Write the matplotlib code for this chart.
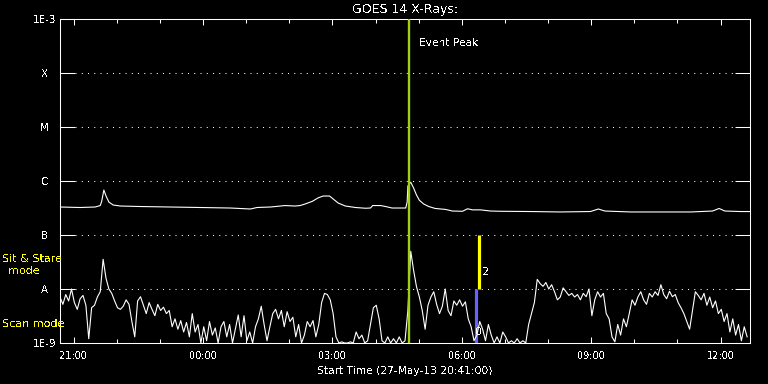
import matplotlib
matplotlib.use('Agg')
import matplotlib.pyplot as plt
import numpy as np
from matplotlib.ticker import FixedLocator, NullLocator

plt.rcParams['text.antialiased'] = False

# start of the plot: 27-May-13 20:41:00, times below are minutes after that
start_hr = 20 + 41 / 60.0

# GOES 14 long channel (1-8 A), units of 1e-7 W/m^2
long_min = [0, 28, 49, 56, 58, 61, 64, 68, 74, 84, 111, 153, 195, 237, 265,
            274, 293, 313, 327, 334, 341, 351, 359, 366, 375, 380, 387, 397,
            411, 425, 432, 435, 446, 453, 462, 481, 483, 484, 488, 492, 496,
            500, 506, 513, 522, 536, 546, 560, 567, 574, 585, 599, 613, 655,
            696, 738, 749, 758, 794, 836, 878, 908, 917, 925, 947, 961]
long_flux = [3.30, 3.23, 3.30, 3.51, 4.2, 6.8, 5.3, 4.07, 3.59, 3.44, 3.37,
             3.30, 3.23, 3.16, 3.03, 3.23, 3.30, 3.51, 3.44, 3.51, 3.75, 4.2,
             4.86, 5.27, 5.27, 4.65, 3.91, 3.44, 3.23, 3.13, 3.16, 3.51, 3.51,
             3.37, 3.16, 3.16, 4.07, 8.08, 9.5, 7.4, 5.5, 4.4, 3.75, 3.37,
             3.10, 2.98, 2.78, 2.75, 3.06, 2.92, 2.92, 2.78, 2.75, 2.72, 2.67,
             2.72, 3.03, 2.78, 2.67, 2.67, 2.67, 2.78, 3.10, 2.78, 2.72, 2.72]

# short channel (0.5-4 A), one reading every 4 minutes, units of 1e-9 W/m^2
short_step = 4
short_flux = [
    7.1, 5.2, 7.9, 6.0, 10.0, 5.6, 4.2, 6.6, 7.6, 5.0,
    1.2, 4.5, 5.0, 7.1, 8.9, 35.5, 15.8, 10.0, 8.3, 6.0,
    4.5, 4.2, 4.8, 6.3, 5.2, 2.5, 1.3, 6.0, 7.2, 5.0,
    3.5, 5.6, 4.2, 3.2, 5.2, 4.0, 4.6, 3.5, 4.0, 2.0,
    2.8, 1.8, 2.6, 1.6, 2.4, 1.3, 3.5, 1.6, 2.2, 1.0,
    2.0, 1.1, 2.5, 1.4, 1.9, 1.0, 2.0, 2.5, 1.3, 2.2,
    1.0, 1.8, 3.3, 1.3, 3.2, 1.1, 1.6, 1.0, 2.0, 2.8,
    4.8, 2.2, 1.1, 2.0, 3.5, 4.2, 2.8, 4.0, 2.0, 3.8,
    2.5, 3.0, 1.3, 2.2, 1.0, 1.4, 2.5, 2.0, 2.6, 1.3,
    2.2, 5.6, 8.3, 7.9, 6.3, 3.5, 1.3, 1.0, 1.05, 1.0,
    1.0, 1.05, 1.0, 1.6, 1.2, 1.4, 1.0, 1.1, 2.2, 4.5,
    5.0, 2.8, 1.1, 1.0, 1.3, 1.0, 1.2, 1.0, 1.3, 1.0,
    1.1, 4.0, 50.0, 22.0, 11.0, 7.1, 4.0, 1.8, 5.0, 7.1,
    8.9, 5.2, 3.5, 4.8, 10.0, 4.0, 3.2, 6.0, 5.0, 6.3,
    4.8, 5.8, 2.8, 2.0, 1.1, 1.4, 2.5, 1.8, 1.1, 2.2,
    1.4, 1.0, 1.3, 1.0, 1.6, 1.3, 1.0, 1.1, 1.0, 1.2,
    1.0, 1.1, 1.0, 2.2, 3.5, 5.6, 15.1, 12.6, 11.2, 13.2,
    10.0, 12.0, 8.9, 6.3, 7.1, 10.5, 8.9, 7.6, 8.3, 7.1,
    7.9, 6.3, 8.3, 7.2, 10.0, 3.2, 6.3, 8.9, 7.1, 8.3,
    3.5, 2.8, 1.3, 1.05, 2.2, 1.4, 2.8, 2.0, 3.5, 6.3,
    5.0, 7.1, 8.9, 6.3, 5.2, 8.3, 7.1, 8.9, 7.6, 12.0,
    7.9, 6.6, 9.1, 7.2, 7.9, 5.6, 4.5, 3.5, 2.5, 1.8,
    4.0, 8.9, 7.6, 6.3, 8.3, 5.0, 7.1, 4.5, 6.0, 3.5,
    4.2, 2.5, 3.5, 1.6, 2.8, 1.4, 2.2, 1.1, 2.0, 1.3,
]

event_min = 486   # event peak
scan_min = 579    # scan mode bar
sit_min = 583     # sit & stare bar

level_vals = [1e-9, 1e-8, 1e-7, 1e-6, 1e-5, 1e-4, 1e-3]
level_labels = ['1E-9', 'A', 'B', 'C', 'M', 'X', '1E-3']
hour_ticks = [21, 24, 27, 30, 33, 36]
hour_labels = ['21:00', '00:00', '03:00', '06:00', '09:00', '12:00']

fig = plt.figure(figsize=(7.68, 3.84), dpi=100, facecolor='black')
ax = fig.add_axes([60 / 768, 41 / 384, 690 / 768, 324 / 384], facecolor='black')
ax.set_yscale('log')

t_long = start_hr + np.array(long_min) / 60.0
t_short = start_hr + np.arange(len(short_flux)) * short_step / 60.0
t_event = start_hr + event_min / 60.0
t_scan = start_hr + scan_min / 60.0
t_sit = start_hr + sit_min / 60.0

# dotted class levels
for v in level_vals[1:-1]:
    ax.axhline(v, xmin=15 / 690, xmax=675 / 690, color='white', lw=0.75,
               ls=(0, (1, 5)), zorder=1)

# observing mode bars
ax.plot([t_scan, t_scan], [1e-9, 1e-8], color='#6464ff', lw=2.3,
        solid_capstyle='butt', zorder=2)
ax.plot([t_sit, t_sit], [1e-8, 1e-7], color='#ffff00', lw=2.3,
        solid_capstyle='butt', zorder=2)

ax.plot(t_long, np.array(long_flux) * 1e-7, color='white', lw=0.8, zorder=3)
ax.plot(t_short, np.array(short_flux) * 1e-9, color='white', lw=0.8, zorder=3)

ax.axvline(t_event, color='#a0d010', lw=1.7, zorder=4)
ax.annotate('Event Peak', xy=(t_event, 3.6e-4), xytext=(7, 0),
            textcoords='offset points', color='white', fontsize=7.7,
            va='center', ha='left')
ax.annotate('2', xy=(t_sit, 2.07e-8), xytext=(2, 0), textcoords='offset points',
            color='white', fontsize=8, va='center', ha='left', zorder=5)
ax.annotate('0', xy=(t_scan, 1.6e-9), xytext=(-1, 0), textcoords='offset points',
            color='white', fontsize=8, va='center', ha='left', zorder=5)

ax.set_xlim(start_hr, start_hr + 16)
ax.set_ylim(1e-9, 1e-3)

ax.set_yticks(level_vals, level_labels, ha='center')
ax.yaxis.set_minor_locator(NullLocator())
ax.tick_params(axis='y', which='major', direction='in', length=10.5,
               width=0.75, colors='white', left=True, right=True,
               labelsize=7.5, pad=11)

ax.xaxis.set_major_locator(FixedLocator(hour_ticks))
ax.xaxis.set_minor_locator(FixedLocator(list(range(21, 37))))
ax.set_xticklabels(hour_labels)
ax.tick_params(axis='x', which='both', direction='in', colors='white',
               top=True, bottom=True, width=0.75, labelsize=7, pad=5.5)
ax.tick_params(axis='x', which='major', length=4.3)
ax.tick_params(axis='x', which='minor', length=2.8)

for s in ax.spines.values():
    s.set_color('white')
    s.set_linewidth(0.75)

fig.text(405 / 768, 1 - 10 / 384, 'GOES 14 X-Rays:', color='white',
         fontsize=9, ha='center', va='center')
fig.text(405 / 768, 1 - 371 / 384, 'Start Time (27-May-13 20:41:00)',
         color='white', fontsize=7.7, ha='center', va='center')

fig.text(2 / 768, 1 - 259 / 384, 'Sit & Stare', color='#ffff00', fontsize=8,
         ha='left', va='center')
fig.text(24 / 768, 1 - 271 / 384, 'mode', color='#ffff00', fontsize=8,
         ha='center', va='center')
fig.text(2 / 768, 1 - 324 / 384, 'Scan mode', color='#ffff00', fontsize=8,
         ha='left', va='center')

fig.savefig('out.png', dpi=100, facecolor='black')
